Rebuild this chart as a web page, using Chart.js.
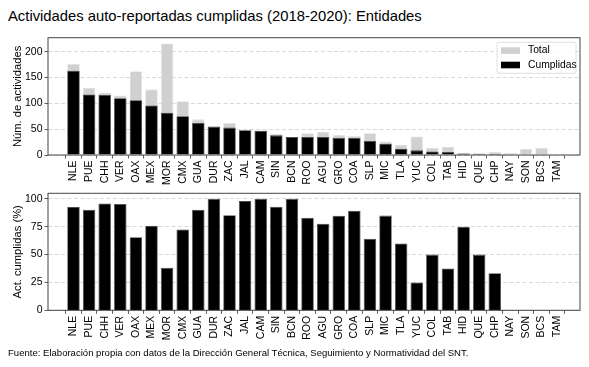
<!DOCTYPE html>
<html lang="es">
<head>
<meta charset="utf-8">
<title>Actividades auto-reportadas cumplidas (2018-2020): Entidades</title>
<script src="https://cdn.jsdelivr.net/npm/chart.js@4.4.1/dist/chart.umd.min.js"></script>
<style>
  html, body { margin: 0; padding: 0; background: #fff; }
  body { width: 589px; height: 367px; position: relative; overflow: hidden;
         font-family: 'Liberation Sans', Arial, Helvetica, sans-serif; color: #000; }
  #titulo { position: absolute; left: 8px; top: 6.5px; font-size: 14.8px; line-height: 18px; white-space: nowrap; }
  #fuente { position: absolute; left: 8px; top: 347px; font-size: 9.55px; line-height: 11px; white-space: nowrap; }
  canvas { position: absolute; left: 0; }
  #chart-total { top: 28px; }
  #chart-pct { top: 185px; }
</style>
</head>
<body>
<div id="titulo">Actividades auto-reportadas cumplidas (2018-2020): Entidades</div>
<canvas id="chart-total" width="589" height="162"></canvas>
<canvas id="chart-pct" width="589" height="160"></canvas>
<div id="fuente">Fuente: Elaboración propia con datos de la Dirección General Técnica, Seguimiento y Normatividad del SNT.</div>
<script>
// --- Datos ---
const entidades = ['NLE', 'PUE', 'CHH', 'VER', 'OAX', 'MEX', 'MOR', 'CMX', 'GUA', 'DUR', 'ZAC', 'JAL', 'CAM', 'SIN', 'BCN', 'ROO',
                   'AGU', 'GRO', 'COA', 'SLP', 'MIC', 'TLA', 'YUC', 'COL', 'TAB', 'HID', 'QUE', 'CHP', 'NAY', 'SON', 'BCS', 'TAM'];
const totalActividades = [176, 130, 121, 115, 162, 127, 216, 104, 69, 55, 62, 49, 47, 41, 35, 42,
                          45, 39, 37, 42, 26, 20, 36, 14, 16, 4, 4, 6, 4, 12, 14, 0];
const cumplidas = [163, 117, 116, 110, 106, 96, 82, 75, 62, 55, 53, 48, 47, 38, 35, 35,
                   35, 33, 33, 27, 22, 12, 9, 7, 6, 3, 2, 2, 0, 0, 0, 0];
const pctCumplidas = [92.6, 90.2, 95.8, 95.5, 65.5, 75.9, 38.1, 72.6, 90.2, 100, 85.4, 98, 100, 92.9, 100, 83,
                      77.7, 84.8, 89.3, 64.3, 85, 60, 25, 50, 37.5, 75, 50, 33.3, 0, 0, 0, null];
const ticksTotal = [0, 50, 100, 150, 200];
const ticksPct = [0, 25, 50, 75, 100];

const FUENTE = "'Liberation Sans', Arial, Helvetica, sans-serif";
Chart.defaults.font.family = FUENTE;
Chart.defaults.color = '#000';

function puntos(valores) {
  return entidades.map((_, i) => ({ x: i, y: valores[i] }));
}

// Eje x numérico para controlar los márgenes como en matplotlib
function ejeX(alto) {
  return {
    type: 'linear',
    min: -1.1,
    max: 31.93,
    grid: { display: true, drawOnChartArea: false, tickLength: 3.5, tickColor: '#333', tickWidth: 0.8 },
    border: { display: false },
    ticks: {
      autoSkip: false, minRotation: 90, maxRotation: 90, padding: 2,
      font: { size: 10.5 },
      callback: v => entidades[v] ?? ''
    },
    afterBuildTicks: s => { s.ticks = entidades.map((_, i) => ({ value: i })); },
    afterFit: s => { s.height = alto; }
  };
}

function ejeY(max, marcas, titulo) {
  return {
    min: 0,
    max: max,
    grid: { color: '#cfcfcf', lineWidth: 0.8, tickLength: 3.5, tickColor: '#333', tickWidth: 0.8, tickBorderDash: [] },
    border: { display: false, dash: [4, 2.5] },
    ticks: { padding: 2, font: { size: 10.5 } },
    afterBuildTicks: s => { s.ticks = marcas.map(v => ({ value: v })); },
    title: { display: true, text: titulo, font: { size: 11.2 }, padding: { top: 5, bottom: 0 } },
    afterFit: s => { s.width = 42; }
  };
}

// Marco del área de trazado
const marco = {
  id: 'marco',
  afterDatasetsDraw(chart) {
    const { ctx, chartArea: a } = chart;
    ctx.save();
    ctx.strokeStyle = '#444';
    ctx.lineWidth = 1;
    ctx.strokeRect(a.left, a.top, a.right - a.left, a.bottom - a.top);
    ctx.restore();
  }
};

// Leyenda dentro del área (arriba a la derecha)
const leyenda = {
  id: 'leyenda',
  afterDraw(chart) {
    const { ctx, chartArea: a } = chart;
    const w = 79, h = 31;
    const x = a.right - 4 - w, y = a.top + 4.6;
    ctx.save();
    ctx.beginPath();
    ctx.roundRect(x, y, w, h, 2);
    ctx.fillStyle = 'rgba(255,255,255,0.8)';
    ctx.fill();
    ctx.strokeStyle = '#d8d8d8';
    ctx.lineWidth = 0.8;
    ctx.stroke();
    ctx.font = '10.3px ' + FUENTE;
    ctx.textBaseline = 'middle';
    chart.data.datasets.forEach((d, i) => {
      const cy = y + 8.3 + i * 14.4;
      ctx.fillStyle = d.backgroundColor;
      ctx.fillRect(x + 4, cy - 3.3, 19, 6.6);
      ctx.fillStyle = '#000';
      ctx.fillText(d.label, x + 31, cy);
    });
    ctx.restore();
  }
};

const base = {
  responsive: false,
  animation: false,
  events: [],
  plugins: { legend: { display: false }, tooltip: { enabled: false } }
};

new Chart(document.getElementById('chart-total'), {
  type: 'bar',
  data: {
    datasets: [
      { label: 'Total', data: puntos(totalActividades), backgroundColor: '#d0d0d0', borderColor: '#e2e2e2',
        borderWidth: 0.8, grouped: false, order: 1, barPercentage: 0.8, categoryPercentage: 1 },
      { label: 'Cumplidas', data: puntos(cumplidas), backgroundColor: '#000000', borderColor: '#4a4a4a',
        borderWidth: 0.8, grouped: false, order: 0, barPercentage: 0.8, categoryPercentage: 1 }
    ]
  },
  options: {
    ...base,
    layout: { padding: { left: 6, right: 9, top: 9.7, bottom: 0 } },
    scales: { x: ejeX(35), y: ejeY(227, ticksTotal, 'Núm. de actividades') }
  },
  plugins: [marco, leyenda]
});

new Chart(document.getElementById('chart-pct'), {
  type: 'bar',
  data: {
    datasets: [
      { label: 'Act. cumplidas (%)', data: puntos(pctCumplidas), backgroundColor: '#000000', borderColor: '#4a4a4a',
        borderWidth: 0.8, barPercentage: 0.8, categoryPercentage: 1 }
    ]
  },
  options: {
    ...base,
    layout: { padding: { left: 6, right: 9, top: 6.7, bottom: 0 } },
    scales: { x: ejeX(34.7), y: ejeY(105, ticksPct, 'Act. cumplidas (%)') }
  },
  plugins: [marco]
});
</script>
</body>
</html>
